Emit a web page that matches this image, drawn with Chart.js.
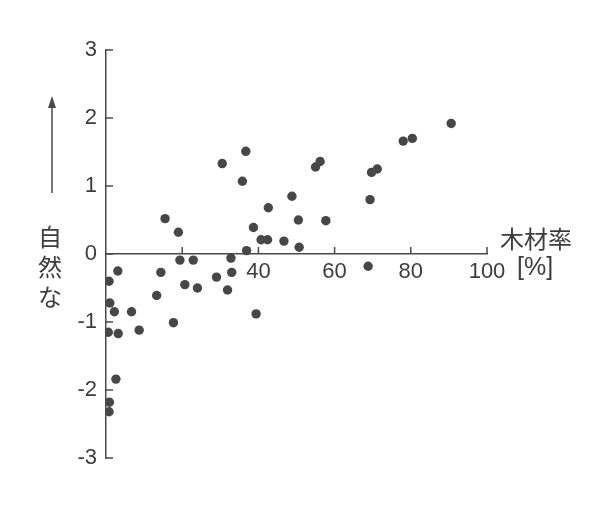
<!DOCTYPE html>
<html lang="ja">
<head>
<meta charset="UTF-8">
<title>木材率と自然さ</title>
<script src="https://cdn.jsdelivr.net/npm/chart.js@4.4.1/dist/chart.umd.min.js"></script>
<style>
  html, body { margin: 0; padding: 0; background: #fff; }
  .wrap { width: 600px; height: 511px; }
</style>
</head>
<body>
<div class="wrap"><canvas id="chart" width="600" height="511"></canvas></div>
<script>
  // 木材率 [%]
  const woodRatio = [
    15.5, 19.0, 30.5, 36.7, 35.8, 38.7, 36.9, 19.4, 22.9, 32.8,
    3.1, 0.8, 14.4, 20.7, 24.0, 29.0, 33.0, 31.9, 13.3, 1.0,
    2.2, 6.7, 0.6, 3.2, 8.7, 17.7, 39.4, 2.6, 0.9, 0.8,
    42.6, 40.7, 42.4, 46.7, 50.7, 50.5, 48.8, 57.7, 55.0, 56.2,
    68.8, 69.3, 69.7, 71.2, 78.0, 80.4, 90.6
  ];
  // 自然な (score)
  const naturalness = [
    0.52, 0.32, 1.33, 1.51, 1.07, 0.39, 0.05, -0.09, -0.09, -0.06,
    -0.25, -0.40, -0.27, -0.45, -0.50, -0.34, -0.27, -0.53, -0.61, -0.72,
    -0.85, -0.85, -1.15, -1.17, -1.12, -1.01, -0.88, -1.84, -2.18, -2.32,
    0.68, 0.21, 0.21, 0.19, 0.10, 0.50, 0.85, 0.49, 1.28, 1.36,
    -0.18, 0.80, 1.20, 1.25, 1.66, 1.70, 1.92
  ];
  const xLabelValues = [40, 60, 80, 100];
  const xUnit = '[%]';
  const xTitle = '木材率';
  const yTitle = ['自', '然', 'な'];

  const ink = '#3d3d3d';
  const axisColor = '#4a4a4a';
  const latinFont = "'Liberation Sans', Arial, sans-serif";
  const cjkFont = "'Noto Sans CJK JP', 'Noto Sans', sans-serif";

  Chart.defaults.font.family = latinFont;
  Chart.defaults.font.size = 22;
  Chart.defaults.color = ink;

  // inward tick marks, arrow and axis titles
  const axisDecor = {
    id: 'axisDecor',
    beforeDatasetsDraw(chart) {
      const { ctx, scales: { x, y } } = chart;
      const y0 = y.getPixelForValue(0);
      const x0 = x.getPixelForValue(0);
      ctx.save();
      ctx.strokeStyle = axisColor;
      ctx.lineWidth = 1.5;
      ctx.beginPath();
      x.ticks.forEach((t) => {
        if (t.value === 0) return;
        const px = x.getPixelForValue(t.value);
        ctx.moveTo(px, y0);
        ctx.lineTo(px, y0 - 7);
      });
      y.ticks.forEach((t) => {
        const py = y.getPixelForValue(t.value);
        ctx.moveTo(x0, py);
        ctx.lineTo(x0 + 7, py);
      });
      ctx.stroke();

      // unit after the 100 label
      ctx.fillStyle = ink;
      ctx.font = '25px ' + latinFont;
      ctx.textAlign = 'left';
      ctx.textBaseline = 'alphabetic';
      ctx.fillText(xUnit, x.getPixelForValue(100) + 30, y0 + 21);

      // x title
      ctx.textBaseline = 'middle';
      ctx.font = '24px ' + cjkFont;
      ctx.fillText(xTitle, x.getPixelForValue(100) + 13, y0 - 15);

      // y title, vertical
      ctx.textAlign = 'center';
      yTitle.forEach((ch, i) => ctx.fillText(ch, 50, 237 + i * 30));

      // arrow
      ctx.beginPath();
      ctx.moveTo(52, 193);
      ctx.lineTo(52, 105);
      ctx.stroke();
      ctx.beginPath();
      ctx.moveTo(52, 96);
      ctx.lineTo(48, 108);
      ctx.lineTo(56, 108);
      ctx.closePath();
      ctx.fillStyle = axisColor;
      ctx.fill();
      ctx.restore();
    }
  };

  new Chart(document.getElementById('chart'), {
    type: 'scatter',
    data: {
      datasets: [{
        data: woodRatio.map((v, i) => ({ x: v, y: naturalness[i] })),
        backgroundColor: '#474747',
        borderWidth: 0,
        pointRadius: 4.7
      }]
    },
    options: {
      responsive: false,
      animation: false,
      layout: { padding: { left: 0, right: 113, top: 50, bottom: 53 } },
      plugins: { legend: { display: false }, tooltip: { enabled: false } },
      scales: {
        x: {
          type: 'linear',
          position: { y: 0 },
          min: 0,
          max: 100,
          afterFit: (s) => { s.height = 0; },
          grid: { display: false },
          border: { display: true, color: axisColor, width: 1.5 },
          ticks: {
            stepSize: 20,
            padding: -3,
            maxRotation: 0,
            font: { size: 22 },
            callback: (v) => (xLabelValues.includes(v) ? String(v) : '')
          }
        },
        y: {
          type: 'linear',
          position: 'left',
          min: -3,
          max: 3,
          afterFit: (s) => { s.width = 106; },
          grid: { display: false },
          border: { display: true, color: axisColor, width: 1.5 },
          ticks: { stepSize: 1, padding: 1, font: { size: 22 } }
        }
      }
    },
    plugins: [axisDecor]
  });
</script>
</body>
</html>
